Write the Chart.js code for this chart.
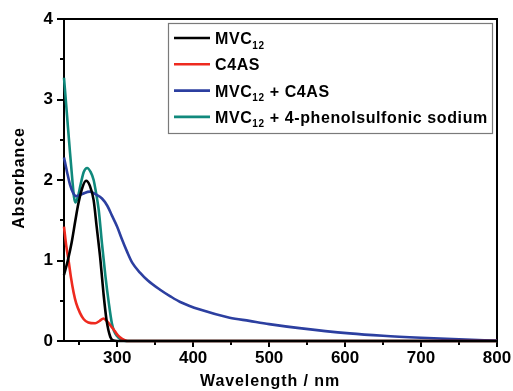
<!DOCTYPE html>
<html>
<head>
<meta charset="utf-8">
<script src="https://cdn.jsdelivr.net/npm/chart.js@4/dist/chart.umd.min.js"></script>
<style>
    html, body { margin: 0; padding: 0; background: #fff; }
    #wrap { width: 513px; height: 391px; }
</style>
</head>
<body>
<div id="wrap"><canvas id="uv-chart" width="513" height="391"></canvas></div>
<script>
// UV-Vis spectra, values
var wlBlack  = [230, 235, 240, 245, 249, 254, 259, 264, 269, 273, 278, 282, 286, 291, 295, 300, 800];
var absBlack = [0.82, 1.0, 1.22, 1.5, 1.71, 1.9, 1.99, 1.93, 1.75, 1.42, 1.0, 0.59, 0.26, 0.05, 0.005, 0, 0];

var wlRed  = [230, 233, 236, 239, 242.7, 246, 251, 256, 262, 271, 277, 282, 285, 289, 293, 297, 301, 306, 310, 314, 800];
var absRed = [1.42, 1.18, 1.0, 0.8, 0.6, 0.47, 0.35, 0.27, 0.23, 0.22, 0.25, 0.28, 0.26, 0.22, 0.17, 0.12, 0.07, 0.03, 0.01, 0, 0];

var wlBlue  = [230, 234, 238, 242, 246, 250, 255, 264, 272, 280, 287, 293, 300, 306, 313, 320, 330, 340, 356, 370, 383, 409, 448, 474, 500, 540, 606, 650, 700, 750, 800];
var absBlue = [2.28, 2.1, 1.94, 1.84, 1.8, 1.81, 1.83, 1.855, 1.82, 1.77, 1.68, 1.56, 1.42, 1.27, 1.11, 0.97, 0.85, 0.755, 0.64, 0.555, 0.485, 0.39, 0.29, 0.25, 0.21, 0.16, 0.095, 0.065, 0.04, 0.02, 0.005];

var wlTeal  = [230, 234, 238, 241, 243, 245, 248, 252, 256, 260.5, 265, 269, 272, 275.7, 280, 284.6, 289, 293, 296, 300, 304, 308, 312, 800];
var absTeal = [3.27, 2.8, 2.33, 2.0, 1.8, 1.72, 1.78, 1.95, 2.1, 2.15, 2.1, 2.0, 1.85, 1.63, 1.21, 0.8, 0.47, 0.22, 0.12, 0.06, 0.025, 0.01, 0, 0];

var xTicks = [300, 400, 500, 600, 700, 800];
var xMinorTicks = [250, 350, 450, 550, 650, 750];
var yTicks = [0, 1, 2, 3, 4];
var yMinorTicks = [0.5, 1.5, 2.5, 3.5];

var xTitle = 'Wavelength / nm';
var yTitle = 'Absorbance';

// legend labels, split so "12" can be drawn as subscript
var legendLabels = [
    [['MVC', false], ['12', true]],
    [['C4AS', false]],
    [['MVC', false], ['12', true], [' + C4AS', false]],
    [['MVC', false], ['12', true], [' + 4-phenolsulfonic sodium', false]]
];
var seriesColors = ['#000000', '#ee2a1f', '#2c3fa0', '#10897c'];

(function () {
    var FONT = 'Arial, "Liberation Sans", sans-serif';

    function toPoints(xs, ys) {
        return xs.map(function (x, i) { return { x: x, y: ys[i] }; });
    }

    function makeSet(xs, ys, color) {
        return {
            data: toPoints(xs, ys),
            borderColor: color,
            backgroundColor: color,
            borderWidth: 2.6,
            pointRadius: 0,
            cubicInterpolationMode: 'monotone',
            fill: false,
            clip: 4
        };
    }

    // frame around plot + short minor ticks
    var framePlugin = {
        id: 'frame',
        beforeDatasetsDraw: function (chart) {
            var ctx = chart.ctx;
            var a = chart.chartArea;
            var xs = chart.scales.x, ys = chart.scales.y;
            ctx.save();
            ctx.strokeStyle = '#000';
            ctx.lineWidth = 2;
            ctx.strokeRect(a.left, a.top, a.right - a.left, a.bottom - a.top);
            ctx.beginPath();
            xMinorTicks.forEach(function (v) {
                var px = Math.round(xs.getPixelForValue(v));
                ctx.moveTo(px, a.bottom);
                ctx.lineTo(px, a.bottom + 4);
            });
            yMinorTicks.forEach(function (v) {
                var py = Math.round(ys.getPixelForValue(v));
                ctx.moveTo(a.left, py);
                ctx.lineTo(a.left - 4, py);
            });
            ctx.stroke();
            ctx.restore();
        }
    };

    // axis titles drawn by hand: original lettering is a bit wider than Arial
    var titlePlugin = {
        id: 'axisTitles',
        afterDraw: function (chart) {
            var ctx = chart.ctx;
            ctx.save();
            ctx.fillStyle = '#000';
            ctx.font = 'bold 16px ' + FONT;
            ctx.letterSpacing = '0.9px';
            ctx.textAlign = 'center';
            ctx.textBaseline = 'alphabetic';
            ctx.fillText(xTitle, 270, 386);
            ctx.translate(24, 178);
            ctx.rotate(-Math.PI / 2);
            ctx.fillText(yTitle, 0, 0);
            ctx.restore();
        }
    };

    var legendPlugin = {
        id: 'boxLegend',
        afterDraw: function (chart) {
            var ctx = chart.ctx;
            var bx = 168, by = 23, bw = 324, bh = 110;
            ctx.save();
            ctx.fillStyle = '#fff';
            ctx.fillRect(bx, by, bw, bh);
            ctx.strokeStyle = '#7a7a7a';
            ctx.lineWidth = 1.2;
            ctx.strokeRect(bx + 0.5, by + 0.5, bw, bh);
            ctx.letterSpacing = '0.6px';
            legendLabels.forEach(function (parts, i) {
                var cy = 38 + i * 26.3;
                ctx.strokeStyle = seriesColors[i];
                ctx.lineWidth = 2.6;
                ctx.beginPath();
                ctx.moveTo(174, cy);
                ctx.lineTo(210, cy);
                ctx.stroke();
                var x = 215;
                ctx.fillStyle = '#000';
                ctx.textBaseline = 'alphabetic';
                parts.forEach(function (p) {
                    if (p[1]) {
                        ctx.font = 'bold 10px ' + FONT;
                        ctx.fillText(p[0], x, cy + 10.5);
                    } else {
                        ctx.font = 'bold 16px ' + FONT;
                        ctx.fillText(p[0], x, cy + 6);
                    }
                    x += ctx.measureText(p[0]).width;
                });
            });
            ctx.restore();
        }
    };

    var tickFont = { family: FONT, size: 17, weight: 'bold' };

    new Chart(document.getElementById('uv-chart'), {
        type: 'line',
        data: {
            datasets: [
                makeSet(wlBlack, absBlack, seriesColors[0]),
                makeSet(wlRed, absRed, seriesColors[1]),
                makeSet(wlBlue, absBlue, seriesColors[2]),
                makeSet(wlTeal, absTeal, seriesColors[3])
            ]
        },
        options: {
            responsive: false,
            animation: false,
            events: [],
            layout: { padding: { left: 0, right: 16, top: 19, bottom: 0 } },
            plugins: {
                legend: { display: false },
                tooltip: { enabled: false }
            },
            scales: {
                x: {
                    type: 'linear',
                    min: 230,
                    max: 800,
                    afterBuildTicks: function (s) { s.ticks = xTicks.map(function (v) { return { value: v }; }); },
                    afterFit: function (s) { s.height = 50; },
                    border: { display: false },
                    grid: { drawOnChartArea: false, drawTicks: true, tickLength: 6, color: '#000', lineWidth: 2 },
                    ticks: { color: '#000', font: tickFont, padding: 1, maxRotation: 0 }
                },
                y: {
                    type: 'linear',
                    min: 0,
                    max: 4,
                    afterBuildTicks: function (s) { s.ticks = yTicks.map(function (v) { return { value: v }; }); },
                    afterFit: function (s) { s.width = 64; },
                    border: { display: false },
                    grid: { drawOnChartArea: false, drawTicks: true, tickLength: 7, color: '#000', lineWidth: 2 },
                    ticks: { color: '#000', font: tickFont, padding: 4 }
                }
            }
        },
        plugins: [framePlugin, legendPlugin, titlePlugin]
    });
})();
</script>
</body>
</html>
